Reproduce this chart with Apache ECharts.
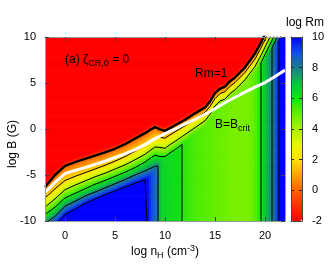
<!DOCTYPE html>
<html><head><meta charset="utf-8">
<script src="https://cdn.jsdelivr.net/npm/echarts@6/dist/echarts.min.js"></script>
<style>html,body{margin:0;padding:0;background:#fff}#c{width:330px;height:269px}</style>
</head><body><div id="c"></div>
<script>
// ---- data ----
// columns (log nH) at which contour positions (log B) were read
const colX = [-2,-1,0,1,2,3,4,5,6,7,8,8.5,9,9.5,10,10.5,11,12,13,14,14.5,15,15.5,16,16.5,17,18,19,19.5,20,21,22];
// log B position of each log Rm level along the columns
const levelM2Y = [-5.8,-4.5,-3.5,-3.1,-2.75,-2.4,-2.05,-1.65,-1.15,-0.55,0.05,0.4,0.7,0.45,0.3,0.6,0.9,1.5,2.2,2.85,3.5,4.4,4.9,5.1,5.7,6.1,7.2,8.7,9.7,10.8,13,15.5];
const level0Y  = [-6.3,-5.0,-4.0,-3.6,-3.25,-2.9,-2.55,-2.15,-1.65,-1.05,-0.45,-0.1,0.2,-0.05,-0.2,0.1,0.4,1.0,1.7,2.35,3.0,3.9,4.4,4.6,5.2,5.6,6.7,8.2,9.2,10.3,12.5,15];
const level2Y  = [-7.5,-6.5,-5.6,-5.15,-4.75,-4.35,-3.95,-3.5,-3.0,-2.4,-1.75,-1.35,-0.95,-0.9,-1.0,-0.65,-0.3,0.35,1.1,1.8,2.45,3.3,3.85,4.05,4.65,5.05,6.15,7.6,8.6,9.7,11.9,14.4];
const level4Y  = [-8.5,-7.6,-6.6,-6.1,-5.65,-5.2,-4.8,-4.35,-3.9,-3.35,-2.75,-2.35,-1.95,-2.0,-2.1,-1.7,-1.35,-0.6,0.15,0.9,1.6,2.5,3.05,3.25,3.85,4.25,5.35,6.8,7.8,8.9,11.1,13.6];
const level6Y  = [-9.3,-8.5,-7.5,-7.0,-6.5,-6.0,-5.6,-5.15,-4.7,-4.2,-3.6,-3.2,-2.85,-3.0,-3.0,-2.6,-2.25,-1.45,-0.65,0.1,0.8,1.7,2.25,2.45,3.05,3.45,4.55,6.0,7.0,8.1,10.3,12.8];
const level8Y  = [-10.3,-9.5,-8.4,-7.85,-7.3,-6.85,-6.4,-5.95,-5.5,-5.0,-4.55,-4.3,-4.05,-4.0,-4.0,-3.6,-3.2,-2.4,-1.6,-0.8,-0.1,0.8,1.35,1.55,2.15,2.55,3.65,5.1,6.1,7.2,9.5,12.0];
const level10Y = [-11.2,-10.4,-9.3,-8.7,-8.1,-7.6,-7.15,-6.75,-6.3,-5.9,-5.5,-5.3,-5.1,-5.0,-5.0,-4.6,-4.2,-3.4,-2.6,-1.8,-1.1,-0.2,0.35,0.55,1.15,1.55,2.65,4.1,5.1,6.2,8.6,11.2];
const levelValues = [-2,0,2,4,6,8,10];
// ceiling of log Rm (vertical structure) along log nH
const plateauX = [-2,7.8,8.2,8.7,9.3,9.6,10.5,11.6,11.8,13,15,17,18.3,19.0,19.6,20.1,20.7,21.1,21.4,22];
const plateauV = [12,11,10,9,8,6.5,6.3,6.1,5.7,5.3,5.0,4.7,4.7,5.1,6.0,7.0,8.0,9.0,10.0,11];
// where the levels 6, 8, 10 turn into vertical contours
const cutLevels = [6, 8, 10];
const cutLeftX  = [11.7, 9.3, 8.2];
const cutRightX = [19.6, 20.7, 21.4];
// B = B_crit line
const whiteX = [-2,-1,0,1,2,3,4,5,6,7,8,9,10,11,12,13,14,15,16,17,18,19,20,21,22];
const whiteY = [-6.9,-5.8,-4.85,-4.5,-4.2,-3.85,-3.5,-3.1,-2.7,-2.25,-1.7,-1.05,-0.5,0.0,0.55,1.05,1.6,2.2,2.85,3.45,4.0,4.55,5.05,5.7,6.4];
// ticks
const xTicks = [0,5,10,15,20];
const cbarColors = ['#ff0000','#ff3000','#ff6400','#ffa400','#ffe000','#e6f800','#a8f200','#64ee00','#10e410','#0cc040','#1a7e90','#1250e0','#0000ff'];

const FONT = 'Liberation Sans, Arial, Helvetica, sans-serif';
function interp(xs, ys, x) {
  if (x <= xs[0]) return ys[0];
  for (let i = 1; i < xs.length; i++) {
    if (x <= xs[i]) { const t = (x - xs[i-1]) / (xs[i] - xs[i-1]); return ys[i-1] + t * (ys[i] - ys[i-1]); }
  }
  return ys[ys.length - 1];
}
const levelArrays = [levelM2Y, level0Y, level2Y, level4Y, level6Y, level8Y, level10Y];
function fieldValue(x, y) {
  const yl = levelArrays.map(a => interp(colX, a, x));
  let a;
  if (y >= yl[0]) a = levelValues[0];
  else if (y <= yl[yl.length-1]) a = levelValues[levelValues.length-1];
  else {
    for (let k = 0; k < yl.length - 1; k++) {
      if (y <= yl[k] && y >= yl[k+1]) { a = levelValues[k] + (yl[k] - y) / (yl[k] - yl[k+1]) * (levelValues[k+1] - levelValues[k]); break; }
    }
  }
  const p = interp(plateauX, plateauV, x);
  return Math.max(-2, Math.min(10, Math.min(a, p)));
}
const NX = 120, NY = 100, DX = 24 / NX, DY = 20 / NY;
const cells = [];
for (let i = 0; i < NX; i++) for (let j = 0; j < NY; j++) {
  const x = -2 + (i + 0.5) * DX, y = -10 + (j + 0.5) * DY;
  cells.push([x, y, fieldValue(x, y)]);
}
function levelPart(arr, from, to) {
  const pts = [[from, interp(colX, arr, from)]];
  colX.forEach((x, i) => { if (x > from && x < to) pts.push([x, arr[i]]); });
  pts.push([to, interp(colX, arr, to)]);
  return pts;
}
function lineSeries(data, width, color, z) {
  return {type:'line', xAxisIndex:0, yAxisIndex:0, data, showSymbol:false, symbol:'none', silent:true, z,
    lineStyle:{color, width}, clip:true, animation:false};
}
const series = [{
  type:'custom', xAxisIndex:0, yAxisIndex:0, data:cells, z:1, silent:true, clip:true,
  encode:{x:0, y:1}, progressive:0, progressiveThreshold:1e6,
  renderItem(params, api) {
    const x = api.value(0), y = api.value(1);
    const p0 = api.coord([x - DX/2, y + DY/2]);
    const p1 = api.coord([x + DX/2, y - DY/2]);
    return {type:'rect', shape:{x:p0[0], y:p0[1], width:p1[0]-p0[0]+0.6, height:p1[1]-p0[1]+0.6},
      style:{fill:api.visual('color')}, silent:true};
  }
}];
series.push(lineSeries(levelPart(level2Y, -2, 22), 1, '#000', 3));
series.push(lineSeries(levelPart(level4Y, -2, 22), 1, '#000', 3));
const cutArrays = {6: level6Y, 8: level8Y, 10: level10Y};
cutLevels.forEach((lv, k) => {
  const arr = cutArrays[lv];
  series.push(lineSeries(levelPart(arr, -2, cutLeftX[k]).concat([[cutLeftX[k], -10]]), 1, '#000', 3));
  series.push(lineSeries([[cutRightX[k], -10]].concat(levelPart(arr, cutRightX[k], 22)), 1, '#000', 3));
});
series.push(lineSeries(levelPart(level0Y, -2, 22), 2.4, '#000', 4));
series.push(lineSeries(whiteX.map((x, i) => [x, whiteY[i]]), 3, '#fff', 5));

const frame = {show:true, onZero:false, lineStyle:{color:'#999', width:1}};
const lab = {color:'#000', fontSize:11, fontFamily:FONT};
const option = {
  animation:false,
  backgroundColor:'#fff',
  grid:[
    {left:45, top:37, width:240, height:184, outerBoundsMode:'none', containLabel:false},
    {left:291, top:37, width:11, height:184, outerBoundsMode:'none', containLabel:false}
  ],
  xAxis:[
    {gridIndex:0, type:'value', min:-2, max:22, position:'bottom', z:10, axisLine:frame,
     axisTick:{show:true, inside:true, length:4, customValues:xTicks, lineStyle:{color:'#444'}},
     axisLabel:Object.assign({show:true, margin:9, customValues:xTicks}, lab),
     splitLine:{show:false},
     name:'{a|log n}{s|H}{a| (cm}{p|-3}{a|)}', nameLocation:'middle', nameGap:23, nameMoveOverlap:false,
     nameTextStyle:{color:'#000', fontFamily:FONT, rich:{
       a:{fontSize:12, lineHeight:16, fontFamily:FONT, color:'#000'},
       s:{fontSize:9, lineHeight:9, verticalAlign:'bottom', fontFamily:FONT, color:'#000'},
       p:{fontSize:9, lineHeight:9, verticalAlign:'top', fontFamily:FONT, color:'#000'}}}},
    {gridIndex:0, type:'value', min:-2, max:22, position:'top', z:10, axisLine:frame,
     axisTick:{show:true, inside:true, length:4, customValues:xTicks, lineStyle:{color:'#444'}},
     axisLabel:{show:false}, splitLine:{show:false}},
    {gridIndex:1, type:'value', min:0, max:1, position:'bottom', z:10,
     axisLine:{show:true, onZero:false, lineStyle:{color:'#444'}}, axisTick:{show:false}, axisLabel:{show:false}, splitLine:{show:false}},
    {gridIndex:1, type:'value', min:0, max:1, position:'top', z:10,
     axisLine:{show:true, onZero:false, lineStyle:{color:'#444'}}, axisTick:{show:false}, axisLabel:{show:false}, splitLine:{show:false}}
  ],
  yAxis:[
    {gridIndex:0, type:'value', min:-10, max:10, interval:5, position:'left', z:10, axisLine:frame,
     axisTick:{show:true, inside:true, length:4, lineStyle:{color:'#444'}},
     axisLabel:Object.assign({show:true, margin:9}, lab), splitLine:{show:false}},
    {gridIndex:0, type:'value', min:-10, max:10, interval:5, position:'right', z:10, axisLine:frame,
     axisTick:{show:true, inside:true, length:4, lineStyle:{color:'#444'}},
     axisLabel:{show:false}, splitLine:{show:false}},
    {gridIndex:1, type:'value', min:-2, max:10, interval:2, position:'right', z:10,
     axisLine:{show:true, onZero:false, lineStyle:{color:'#444'}}, axisTick:{show:false},
     axisLabel:Object.assign({show:true, margin:10}, lab),
     splitLine:{show:true, lineStyle:{color:'#222', width:1, type:[3,5]}}},
    {gridIndex:1, type:'value', min:-2, max:10, interval:2, position:'left', z:10,
     axisLine:{show:true, onZero:false, lineStyle:{color:'#444'}}, axisTick:{show:false},
     axisLabel:{show:false}, splitLine:{show:false}}
  ],
  visualMap:{
    type:'continuous', min:-2, max:10, dimension:2, seriesIndex:0, show:true, calculable:false,
    orient:'vertical', itemWidth:11, itemHeight:184, left:291, top:37, padding:0, z:1, hoverLink:false,
    inRange:{color:cbarColors}
  },
  graphic:[
    {type:'text', x:305, y:23, z:100, style:{text:'log Rm', fontSize:12, fontFamily:FONT, fill:'#000', align:'center', verticalAlign:'middle'}},
    {type:'text', x:13, y:144, rotation:Math.PI/2, z:100, style:{text:'log B (G)', fontSize:12, fontFamily:FONT, fill:'#000', align:'center', verticalAlign:'middle'}},
    {type:'text', x:65, y:60, z:100, style:{text:'{m|(a) ζ}{s|CR,0}{m| = 0}', align:'left', verticalAlign:'middle',
      rich:{m:{fontSize:12, lineHeight:16, fontFamily:FONT, fill:'#000'}, s:{fontSize:9, lineHeight:9, verticalAlign:'bottom', fontFamily:FONT, fill:'#000'}}}},
    {type:'text', x:195, y:74, z:100, style:{text:'Rm=1', fontSize:12, fontFamily:FONT, fill:'#000', align:'left', verticalAlign:'middle'}},
    {type:'text', x:215, y:125, z:100, style:{text:'{m|B=B}{s|crit}', align:'left', verticalAlign:'middle',
      rich:{m:{fontSize:12, lineHeight:16, fontFamily:FONT, fill:'#000'}, s:{fontSize:9, lineHeight:9, verticalAlign:'bottom', fontFamily:FONT, fill:'#000'}}}}
  ],
  series
};
const chart = echarts.init(document.getElementById('c'), null, {renderer:'canvas'});
chart.setOption(option);
</script></body></html>
